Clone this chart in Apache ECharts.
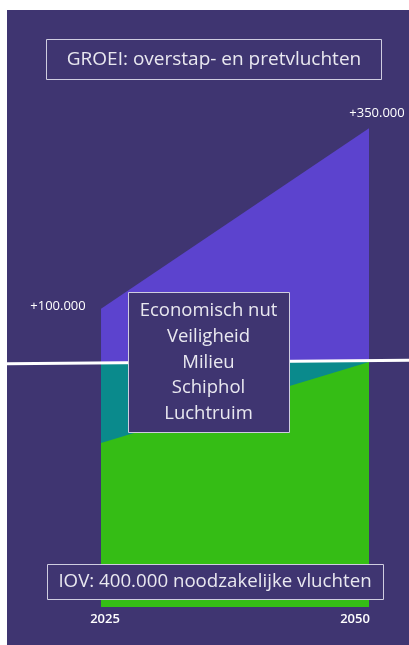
<!DOCTYPE html>
<html>
<head>
<meta charset="utf-8">
<script src="https://cdn.jsdelivr.net/npm/echarts@6/dist/echarts.min.js"></script>
<style>
html,body{margin:0;padding:0;background:#ffffff;width:409px;height:645px;overflow:hidden;}
#chart{position:absolute;left:7px;top:10px;width:402px;height:635px;}
</style>
</head>
<body>
<div id="chart"></div>
<script>
// Data (values in thousands of flights)
const years = [2025, 2050];
const iovGreen = [268, 400];          // green band
const iovTeal = [132, 0];             // teal wedge
const growthPurple = [87, 382];       // growth (purple)
const growthLabels = ['+100.000', '+350.000'];
const tickLabels = ['2025', '2050'];
const capLineX = [2016.23, 2053.73];
const capLineY = [397.2, 402.8];
const titleText = 'GROEI: overstap- en pretvluchten';
const criteria = ['Economisch nut', 'Veiligheid', 'Milieu', 'Schiphol', 'Luchtruim'];
const bottomText = 'IOV: 400.000 noodzakelijke vluchten';

// cumulative tops (stacking done here, since both axes are value axes)
const topGreen = iovGreen.slice();
const topTeal = iovGreen.map((v, i) => v + iovTeal[i]);
const topPurple = topTeal.map((v, i) => v + growthPurple[i]);

const FONT = 'Open Sans';
const TXT = '#E9E8F0';
const BG = '#3F3571';
const BORDER = '#CFCDE0';

const chart = echarts.init(document.getElementById('chart'), null, {renderer: 'canvas'});

const labelOffsets = [[-43, -3], [8, -15]];

const option = {
  backgroundColor: BG,
  animation: false,
  grid: {left: 0, right: 0, top: 0, bottom: 38, containLabel: false},
  xAxis: {
    type: 'value',
    min: capLineX[0],
    max: capLineX[1],
    axisLine: {show: false},
    axisTick: {show: false},
    splitLine: {show: false},
    axisLabel: {
      customValues: years,
      margin: 6,
      formatter: function (v) {
        if (Math.round(v) === years[0]) return '{a|' + tickLabels[0] + '}';
        if (Math.round(v) === years[1]) return '{b|' + tickLabels[1] + '}';
        return '';
      },
      rich: {
        a: {color: '#FFFFFF', fontFamily: FONT, fontSize: 13, fontWeight: 600, padding: [0, 0, 0, 8]},
        b: {color: '#FFFFFF', fontFamily: FONT, fontSize: 13, fontWeight: 600, padding: [0, 28, 0, 0]}
      }
    }
  },
  yAxis: {
    type: 'value', min: 0, max: 975,
    show: false
  },
  series: [
    {
      name: 'Groei', type: 'line', symbol: 'circle', symbolSize: 0.01,
      itemStyle: {color: 'rgba(0,0,0,0)'},
      lineStyle: {width: 0}, areaStyle: {color: '#5C43CE', opacity: 1},
      data: years.map((y, i) => ({
        value: [y, topPurple[i]],
        label: {
          show: true, position: 'inside', offset: labelOffsets[i],
          formatter: growthLabels[i], color: '#FFFFFF', fontFamily: FONT, fontSize: 13
        }
      })), z: 2
    },
    {
      name: 'Teal', type: 'line', symbol: 'none',
      lineStyle: {width: 0}, areaStyle: {color: '#0A8A8C', opacity: 1},
      data: years.map((y, i) => [y, topTeal[i]]), z: 3
    },
    {
      name: 'IOV', type: 'line', symbol: 'none',
      lineStyle: {width: 0}, areaStyle: {color: '#35BD15', opacity: 1},
      data: years.map((y, i) => [y, topGreen[i]]), z: 4
    },
    {
      type: 'line', symbol: 'none', silent: true,
      lineStyle: {width: 3, color: '#FFFFFF'},
      data: capLineX.map((x, i) => [x, capLineY[i]]), z: 5
    }
  ],
  graphic: [
    {
      type: 'group', z: 100,
      children: [
        {type: 'rect', shape: {x: 39.5, y: 29.5, width: 335, height: 40},
         style: {fill: BG, stroke: BORDER, lineWidth: 1}, z: 100},
        {type: 'text', x: 207, y: 49.5, z: 101,
         style: {text: titleText, fill: TXT, font: '19px ' + FONT, align: 'center', verticalAlign: 'middle'}}
      ]
    },
    {
      type: 'group', z: 100,
      children: [
        {type: 'rect', shape: {x: 121.5, y: 282.5, width: 161, height: 140},
         style: {fill: BG, stroke: BORDER, lineWidth: 1}, z: 100}
      ].concat(criteria.map((t, i) => ({
        type: 'text', x: 201.5, y: 301 + i * 25.7, z: 101,
        style: {text: t, fill: TXT, font: '18.5px ' + FONT, align: 'center', verticalAlign: 'middle'}
      })))
    },
    {
      type: 'group', z: 100,
      children: [
        {type: 'rect', shape: {x: 40.5, y: 554.5, width: 336, height: 35},
         style: {fill: BG, stroke: BORDER, lineWidth: 1}, z: 100},
        {type: 'text', x: 208, y: 572, z: 101,
         style: {text: bottomText, fill: TXT, font: '18.7px ' + FONT, align: 'center', verticalAlign: 'middle'}}
      ]
    }
  ]
};
chart.setOption(option);
</script>
</body>
</html>
